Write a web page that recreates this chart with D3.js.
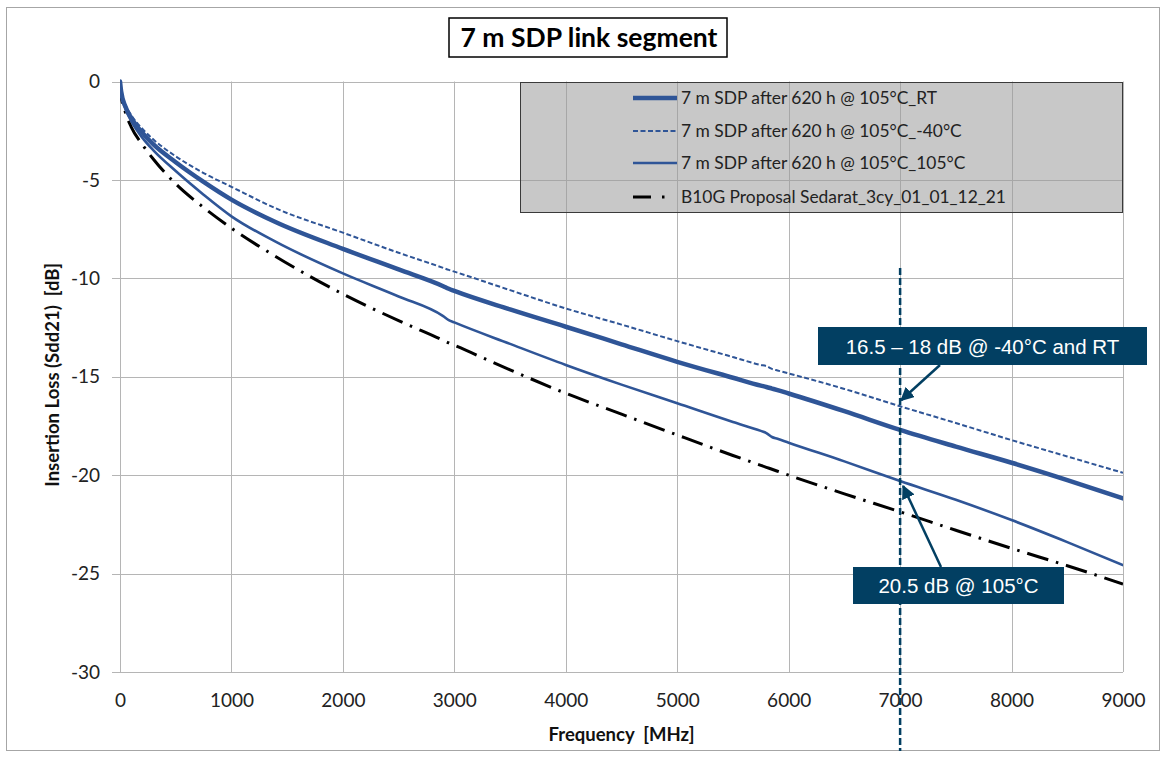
<!DOCTYPE html>
<html>
<head>
<meta charset="utf-8">
<script src="https://cdn.jsdelivr.net/npm/d3@7"></script>
<style>
  html, body { margin: 0; padding: 0; background: #ffffff; }
  svg { display: block; }
</style>
</head>
<body>
<svg id="chart" width="1167" height="758"></svg>
<script>
// Frequency points in MHz (shared by all four traces)
const freqMHz = [0, 10, 50, 100, 200, 300, 500, 750, 1000, 1400, 2000, 2500, 2900, 2950, 3000,
  3500, 4000, 4500, 5000, 5500, 5750, 5800, 5850, 5900, 6000, 6500, 7000, 7500, 8000, 8500, 9000];

// Insertion loss Sdd21 in dB
const lossRT = [0, -0.5, -1.3, -1.85, -2.6, -3.2, -4.1, -5.1, -6.0, -7.15, -8.5, -9.55, -10.4, -10.53, -10.64,
  -11.58, -12.46, -13.35, -14.24, -15.05, -15.45, -15.52, -15.6, -15.68, -15.85, -16.75, -17.7, -18.55, -19.37, -20.25, -21.18];
const lossCold = [0, -0.5, -1.2, -1.7, -2.4, -2.95, -3.8, -4.65, -5.35, -6.45, -7.68, -8.7, -9.47, -9.57, -9.66,
  -10.6, -11.53, -12.35, -13.19, -14.0, -14.4, -14.46, -14.6, -14.68, -14.83, -15.62, -16.5, -17.35, -18.22, -19.05, -19.88];
const lossHot = [0, -0.55, -1.4, -2.0, -2.85, -3.5, -4.55, -5.75, -6.85, -8.15, -9.75, -10.92, -11.92, -12.12, -12.24,
  -13.33, -14.4, -15.4, -16.35, -17.3, -17.75, -17.86, -18.06, -18.15, -18.35, -19.3, -20.3, -21.25, -22.28, -23.4, -24.57];
const lossLimit = [0, -0.7, -1.6, -2.3, -3.2, -3.95, -5.2, -6.4, -7.45, -8.9, -10.8, -12.15, -13.15, -13.28, -13.4,
  -14.65, -15.84, -16.9, -17.96, -19.0, -19.5, -19.6, -19.7, -19.8, -20.0, -20.95, -21.86, -22.8, -23.72, -24.6, -25.53];

const seriesNames = [
  "7 m SDP after 620 h @ 105°C_RT",
  "7 m SDP after 620 h @ 105°C_-40°C",
  "7 m SDP after 620 h @ 105°C_105°C",
  "B10G Proposal Sedarat_3cy_01_01_12_21"
];

const xTicks = [0, 1000, 2000, 3000, 4000, 5000, 6000, 7000, 8000, 9000];
const yTicks = [0, -5, -10, -15, -20, -25, -30];

const titleText = "7 m SDP link segment";
const xTitle = "Frequency  [MHz]";
const yTitle = "Insertion Loss (Sdd21)  [dB]";
const markerFreq = 7000;
const noteColdRT = "16.5 – 18 dB @ -40°C and RT";
const noteHot = "20.5 dB @ 105°C";

// ---- layout ----
const W = 1167, H = 758;
const plot = { left: 120, right: 1123, top: 81.5, bottom: 672 };
const blue = "#2F5597";
const navy = "#023F62";
const gridColor = "#b5b5b5";
const uiFont = "Lato, 'Open Sans', sans-serif";
const noteFont = "'Liberation Sans', Arial, sans-serif";
const plainNumber = d => String(d);   // keep ASCII hyphen for negatives

const svg = d3.select("#chart");

const x = d3.scaleLinear().domain([0, 9000]).range([plot.left, plot.right]);
const y = d3.scaleLinear().domain([-30, 0]).range([plot.bottom, plot.top]);

// outer frame
svg.append("rect")
  .attr("x", 6.5).attr("y", 7.5).attr("width", 1153).attr("height", 743)
  .attr("fill", "#fff").attr("stroke", "#a6a6a6").attr("stroke-width", 1);

// gridlines
const grid = svg.append("g");
grid.selectAll("line.v").data(xTicks).join("line")
  .attr("x1", d => Math.round(x(d)) + 0.5).attr("x2", d => Math.round(x(d)) + 0.5)
  .attr("y1", plot.top).attr("y2", plot.bottom)
  .attr("stroke", gridColor).attr("stroke-width", 1);
grid.selectAll("line.h").data(yTicks).join("line")
  .attr("x1", plot.left - 8).attr("x2", plot.right)
  .attr("y1", d => Math.round(y(d)) + 0.5).attr("y2", d => Math.round(y(d)) + 0.5)
  .attr("stroke", gridColor).attr("stroke-width", 1);

// tick labels via d3 axes (axis lines hidden, the grid draws them)
const yAxis = svg.append("g")
  .attr("transform", `translate(${plot.left},0)`)
  .call(d3.axisLeft(y).tickValues(yTicks).tickFormat(plainNumber).tickSize(0).tickPadding(20));
yAxis.select(".domain").remove();
yAxis.selectAll("text").attr("font-family", uiFont).attr("font-size", 19).attr("fill", "#222");

const xAxis = svg.append("g")
  .attr("transform", `translate(0,${plot.bottom})`)
  .call(d3.axisBottom(x).tickValues(xTicks).tickFormat(plainNumber).tickSize(0).tickPadding(22));
xAxis.select(".domain").remove();
xAxis.selectAll("text").attr("font-family", uiFont).attr("font-size", 19).attr("fill", "#222");

// axis titles
svg.append("text")
  .attr("x", (plot.left + plot.right) / 2).attr("y", 741)
  .attr("text-anchor", "middle")
  .attr("font-family", uiFont).attr("font-weight", "bold").attr("font-size", 18.5)
  .attr("fill", "#111").attr("xml:space", "preserve")
  .text(xTitle);
svg.append("text")
  .attr("transform", `translate(59,${(plot.top + plot.bottom) / 2 - 2}) rotate(-90)`)
  .attr("text-anchor", "middle")
  .attr("font-family", uiFont).attr("font-weight", "bold").attr("font-size", 18.5)
  .attr("fill", "#111").attr("xml:space", "preserve")
  .text(yTitle);

// legend box (translucent grey over grid)
const legend = { x: 520, y: 82, w: 602, h: 130 };
svg.append("rect")
  .attr("x", legend.x + 0.5).attr("y", legend.y + 0.5).attr("width", legend.w).attr("height", legend.h)
  .attr("fill", "#9a9a9a").attr("fill-opacity", 0.55)
  .attr("stroke", "#3a3a3a").attr("stroke-width", 1);

// series definitions
const series = [
  { name: seriesNames[0], values: lossRT, color: blue, width: 4.5, dash: null },
  { name: seriesNames[1], values: lossCold, color: blue, width: 2, dash: "5,2.5" },
  { name: seriesNames[2], values: lossHot, color: blue, width: 2.6, dash: null },
  { name: seriesNames[3], values: lossLimit, color: "#000", width: 3, dash: "22,8,2.5,8" }
];

svg.append("defs").append("clipPath").attr("id", "plotClip")
  .append("rect").attr("x", plot.left).attr("y", plot.top - 3)
  .attr("width", plot.right - plot.left).attr("height", plot.bottom - plot.top + 3);

const line = d3.line()
  .x(d => x(d[0])).y(d => y(d[1]))
  .curve(d3.curveMonotoneX);

const traces = svg.append("g").attr("clip-path", "url(#plotClip)");
// draw limit first, then measured traces on top
[3, 2, 1, 0].forEach(i => {
  const s = series[i];
  traces.append("path")
    .datum(freqMHz.map((f, k) => [f, s.values[k]]))
    .attr("d", line)
    .attr("fill", "none")
    .attr("stroke", s.color)
    .attr("stroke-width", s.width)
    .attr("stroke-dasharray", s.dash)
    .attr("stroke-linejoin", "round")
    .attr("stroke-linecap", s.dash ? "butt" : "round");
});

// legend entries
const rowY = [98, 131, 163, 197];
series.forEach((s, i) => {
  const g = svg.append("g");
  if (i === 3) {
    g.append("line").attr("x1", 633).attr("x2", 651).attr("y1", rowY[i]).attr("y2", rowY[i])
      .attr("stroke", "#000").attr("stroke-width", 3);
    g.append("line").attr("x1", 662).attr("x2", 664.5).attr("y1", rowY[i]).attr("y2", rowY[i])
      .attr("stroke", "#000").attr("stroke-width", 3);
  } else {
    g.append("line").attr("x1", 633).attr("x2", 677).attr("y1", rowY[i]).attr("y2", rowY[i])
      .attr("stroke", s.color).attr("stroke-width", s.width)
      .attr("stroke-dasharray", s.dash);
  }
  g.append("text")
    .attr("x", 681).attr("y", rowY[i]).attr("dy", "0.35em")
    .attr("font-family", uiFont).attr("font-size", 17.4).attr("fill", "#222")
    .text(s.name);
});

// title box
svg.append("rect")
  .attr("x", 449).attr("y", 18).attr("width", 278).attr("height", 39)
  .attr("fill", "#fff").attr("stroke", "#000").attr("stroke-width", 1.5);
svg.append("text")
  .attr("x", 589).attr("y", 47)
  .attr("text-anchor", "middle")
  .attr("font-family", uiFont).attr("font-weight", "bold").attr("font-size", 26.5)
  .attr("fill", "#000")
  .text(titleText);

// vertical marker at 7000 MHz
const mx = x(markerFreq);
svg.append("line")
  .attr("x1", mx).attr("x2", mx).attr("y1", 268).attr("y2", 751)
  .attr("stroke", navy).attr("stroke-width", 2.5).attr("stroke-dasharray", "7,3");

// arrow marker
svg.select("defs").append("marker")
  .attr("id", "arrowHead").attr("viewBox", "0 0 10 10")
  .attr("refX", 9).attr("refY", 5)
  .attr("markerWidth", 5.5).attr("markerHeight", 5.5)
  .attr("markerUnits", "strokeWidth")
  .attr("orient", "auto")
  .append("path").attr("d", "M0,0 L10,5 L0,10 z").attr("fill", navy);

const kMark = freqMHz.indexOf(markerFreq);

// upper note
svg.append("line")
  .attr("x1", 940).attr("y1", 365)
  .attr("x2", mx + 1).attr("y2", y(lossCold[kMark]) - 6)
  .attr("stroke", navy).attr("stroke-width", 2.5)
  .attr("marker-end", "url(#arrowHead)");
svg.append("rect")
  .attr("x", 818).attr("y", 327).attr("width", 329).attr("height", 38)
  .attr("fill", navy);
svg.append("text")
  .attr("x", 982.5).attr("y", 353.5)
  .attr("text-anchor", "middle")
  .attr("font-family", noteFont).attr("font-size", 20.5).attr("fill", "#fff")
  .text(noteColdRT);

// lower note
svg.append("line")
  .attr("x1", 941).attr("y1", 567)
  .attr("x2", mx + 3).attr("y2", y(lossHot[kMark]) + 5)
  .attr("stroke", navy).attr("stroke-width", 2.5)
  .attr("marker-end", "url(#arrowHead)");
svg.append("rect")
  .attr("x", 853).attr("y", 567).attr("width", 211).attr("height", 37)
  .attr("fill", navy);
svg.append("text")
  .attr("x", 958.5).attr("y", 593)
  .attr("text-anchor", "middle")
  .attr("font-family", noteFont).attr("font-size", 20.5).attr("fill", "#fff")
  .text(noteHot);
</script>
</body>
</html>
